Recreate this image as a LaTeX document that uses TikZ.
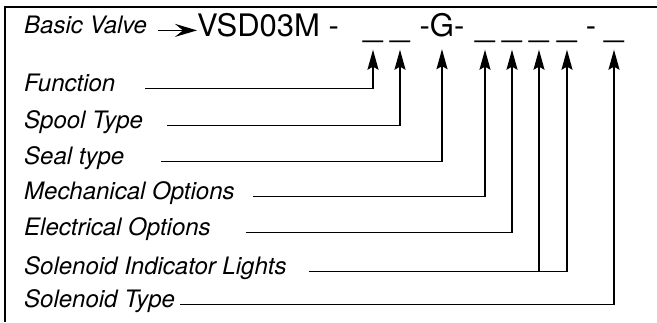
\documentclass[tikz,border=0pt]{standalone}
\usepackage{fontspec}
\setmainfont{TeX Gyre Heros}
\usetikzlibrary{arrows.meta}

\begin{document}
\begin{tikzpicture}[x=1pt,y=-1pt,
    lbl/.style={anchor=base west,inner sep=0pt,font=\fontsize{24}{28}\selectfont\itshape},
    code/.style={anchor=base,inner sep=0pt,outer xsep=0pt,outer ysep=12.5pt,text depth=0pt,font=\fontsize{31}{36}\selectfont},
    blank/.style={code,font=\fontsize{35}{40}\selectfont},
    conn/.style={-{Stealth[length=20pt,width=11pt,inset=3pt]},line width=1.4pt},
    feed/.style={-{Stealth[length=22pt,width=13pt,inset=8pt]},line width=1.4pt}]
    \useasboundingbox (0,0) rectangle (657,322);
    % frame, open at the right and bottom
    \draw[line width=1.4pt] (5,322) -- (5,7) -- (657,7);

    % model code
    \node[code,anchor=base west] (vsd) at (197,36.7) {VSD03M -};
    \node[blank] (b1) at (373,36.7) {\_};
    \node[blank] (b2) at (400,36.7) {\_};
    \node[code] (g) at (442,36.7) {-G-};
    \node[blank] (b3) at (485,36.7) {\_};
    \node[blank] (b4) at (512,36.7) {\_};
    \node[blank] (b5) at (539,36.7) {\_};
    \node[blank] (b6) at (567,36.7) {\_};
    \node[code] (dash) at (591,36.7) {-};
    \node[blank] (b7) at (614,36.7) {\_};

    % labels
    \node[lbl] (bv) at (24,33) {Basic Valve};
    \node[lbl] (func) at (24,91) {Function};
    \node[lbl] (spool) at (24,128) {Spool Type};
    \node[lbl] (seal) at (24,164) {Seal type};
    \node[lbl] (mech) at (24,199) {Mechanical Options};
    \node[lbl] (elec) at (24,235) {Electrical Options};
    \node[lbl] (sil) at (24,274) {Solenoid Indicator Lights};
    \node[lbl] (sol) at (24,307) {Solenoid Type};

    % leaders
    \draw[feed] (bv.mid east -| 158,0) -- (bv.mid east -| vsd.west);
    \draw[conn] (func.mid east -| 145,0) -| (b1.south);
    \draw[conn] (spool.mid east -| 167,0) -| (b2.south);
    \draw[conn] (seal.mid east -| 161,0) -| (g.south);
    \draw[conn] (mech.mid east -| 253,0) -| (b3.south);
    \draw[conn] (elec.mid east -| 246,0) -| (b4.south);
    \draw[conn] (sil.mid east -| 309,0) -| (b6.south);
    \draw[conn] (b5.south |- sil.mid east) -- (b5.south);
    \draw[conn] ([xshift=5pt]sol.mid east) -| (b7.south);
\end{tikzpicture}
\end{document}
